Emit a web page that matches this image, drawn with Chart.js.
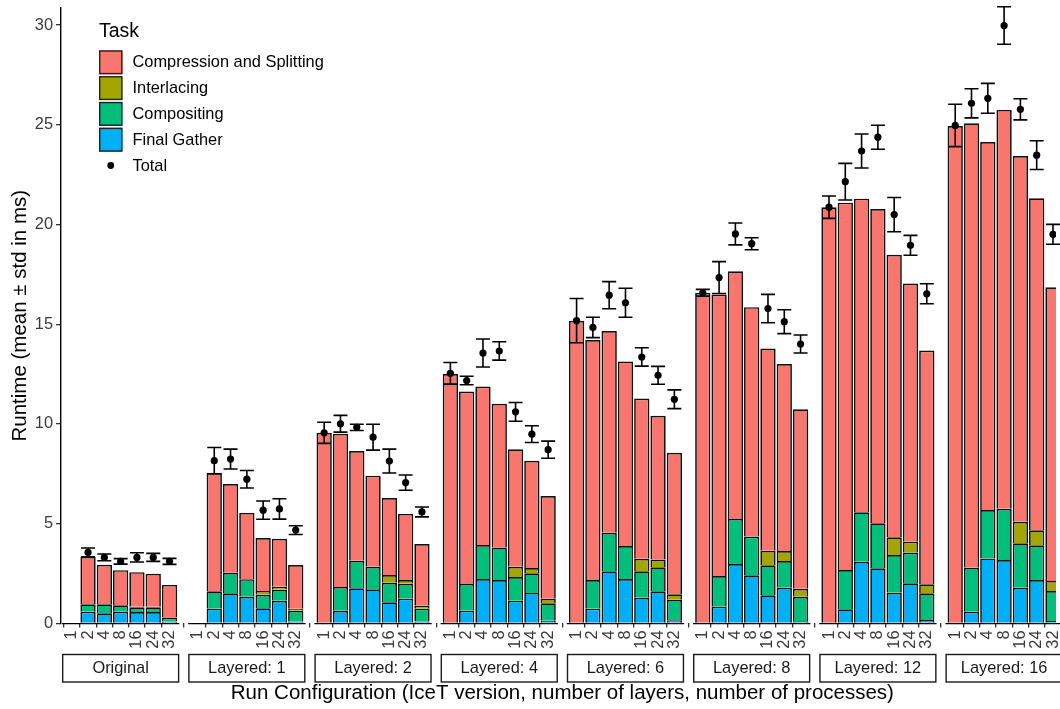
<!DOCTYPE html>
<html>
<head>
<meta charset="utf-8">
<title>IceT runtime breakdown</title>
<script src="https://cdn.jsdelivr.net/npm/chart.js@4.4.1/dist/chart.umd.min.js"></script>
<style>
  html, body { margin: 0; padding: 0; background: #ffffff; }
  canvas { display: block; }
</style>
</head>
<body>
<canvas id="runtimeChart" width="1060" height="709"></canvas>
<script>
// Facets (IceT version / number of layers) and process counts inside each facet
const facets = ['Original', 'Layered: 1', 'Layered: 2', 'Layered: 4', 'Layered: 6', 'Layered: 8', 'Layered: 12', 'Layered: 16'];
const processes = ['1', '2', '4', '8', '16', '24', '32'];

// Mean time per task in ms; one row per facet, one column per process count
const finalGather = [
  [null, 0.59, 0.51, 0.59, 0.57, 0.57, 0.09],
  [null, 0.74, 1.51, 1.34, 0.76, 1.13, 0.09],
  [null, 0.63, 1.76, 1.68, 1.06, 1.24, 0.09],
  [null, 0.64, 2.23, 2.18, 1.14, 1.53, 0.13],
  [null, 0.74, 2.61, 2.23, 1.28, 1.61, 0.16],
  [null, 0.84, 2.98, 2.41, 1.41, 1.79, 0.11],
  [null, 0.71, 3.09, 2.76, 1.54, 2.01, 0.17],
  [null, 0.59, 3.26, 3.18, 1.79, 2.18, 0.12]
];
const compositing = [
  [null, 0.37, 0.45, 0.32, 0.24, 0.24, 0.20],
  [null, 0.87, 1.03, 0.88, 0.68, 0.56, 0.54],
  [null, 1.20, 1.38, 1.16, 0.98, 0.75, 0.65],
  [null, 1.34, 1.70, 1.63, 1.19, 0.98, 0.88],
  [null, 1.44, 1.93, 1.65, 1.33, 1.20, 1.02],
  [null, 1.54, 2.26, 1.95, 1.50, 1.34, 1.23],
  [null, 1.97, 2.48, 2.26, 1.89, 1.54, 1.34],
  [null, 2.20, 2.43, 2.57, 2.23, 1.74, 1.50]
];
const interlacing = [
  [null, 0, 0, 0, 0.03, 0.03, 0.03],
  [null, 0, 0, 0, 0.19, 0.15, 0.11],
  [null, 0, 0, 0, 0.39, 0.19, 0.14],
  [null, 0, 0, 0, 0.51, 0.27, 0.22],
  [null, 0, 0, 0, 0.63, 0.40, 0.28],
  [null, 0, 0, 0, 0.73, 0.50, 0.40],
  [null, 0, 0, 0, 0.89, 0.55, 0.45],
  [null, 0, 0, 0, 1.08, 0.75, 0.51]
];
const compression = [
  [null, 2.38, 1.98, 1.76, 1.73, 1.65, 1.61],
  [null, 5.95, 4.45, 3.32, 2.65, 2.40, 2.19],
  [9.56, 7.68, 5.50, 4.57, 3.86, 3.31, 3.10],
  [12.51, 9.65, 7.95, 7.20, 5.89, 5.38, 5.16],
  [15.18, 12.03, 10.12, 9.25, 8.04, 7.20, 7.10],
  [16.58, 14.11, 12.42, 11.50, 10.15, 9.38, 9.00],
  [20.87, 18.42, 15.73, 15.76, 14.17, 12.94, 11.72],
  [24.94, 22.29, 18.45, 20.00, 18.34, 16.65, 14.73]
];

// Measured total runtime: mean and standard deviation (ms)
const totalMean = [
  [null, 3.56, 3.31, 3.11, 3.31, 3.31, 3.11],
  [null, 8.16, 8.24, 7.23, 5.68, 5.74, 4.68],
  [9.56, 10.01, 9.83, 9.34, 8.14, 7.06, 5.59],
  [12.54, 12.18, 13.56, 13.66, 10.61, 9.49, 8.71],
  [15.18, 14.84, 16.46, 16.08, 13.36, 12.44, 11.24],
  [16.58, 17.34, 19.53, 19.04, 15.79, 15.13, 14.01],
  [20.87, 22.15, 23.69, 24.38, 20.50, 18.96, 16.53],
  [24.97, 26.08, 26.33, 29.98, 25.78, 23.48, 19.51]
];
const totalStd = [
  [null, 0.22, 0.17, 0.14, 0.23, 0.20, 0.15],
  [null, 0.66, 0.50, 0.44, 0.46, 0.51, 0.22],
  [0.53, 0.42, 0.16, 0.65, 0.60, 0.38, 0.25],
  [0.54, 0.21, 0.70, 0.46, 0.47, 0.42, 0.43],
  [1.11, 0.51, 0.68, 0.73, 0.46, 0.45, 0.47],
  [0.17, 0.80, 0.55, 0.30, 0.71, 0.60, 0.45],
  [0.56, 0.92, 0.85, 0.60, 0.86, 0.50, 0.50],
  [1.06, 0.73, 0.75, 0.94, 0.53, 0.72, 0.50]
];

// y axis tick values
const yTicks = [0, 5, 10, 15, 20, 25, 30];

// ---- layout of the faceted x axis (in category units) ----
const FONT = '"Liberation Sans", Arial, Helvetica, sans-serif';
const PANEL_PAD = 0.6;            // empty space either side of a panel
const FACET_STRIDE = 7.745;       // panel width (6 + 2*pad) plus panel spacing
const X_MIN = -0.66;
const X_MAX = 60.4;
const Y_MAX = 30.86;
const AXIS_BOTTOM_HEIGHT = 85.6;

const xPos = (f, c) => f * FACET_STRIDE + c;

function toPoints(rows) {
  const pts = [];
  rows.forEach((row, f) => row.forEach((v, c) => {
    if (v) pts.push({ x: xPos(f, c), y: v });
  }));
  return pts;
}

const totalPoints = [];
totalMean.forEach((row, f) => row.forEach((m, c) => {
  if (m !== null) totalPoints.push({ x: xPos(f, c), y: m, sd: totalStd[f][c] });
}));

const tickPositions = [];
facets.forEach((_, f) => processes.forEach((_, c) => tickPositions.push(xPos(f, c))));

// Error bars are painted just before the Total points, above the stacked bars
const errorBars = {
  id: 'errorBars',
  beforeDatasetDraw(chart, args) {
    const ds = chart.data.datasets[args.index];
    if (ds.label !== 'Total') return;
    const { ctx, scales: { x, y } } = chart;
    const half = x.getPixelForValue(0.43) - x.getPixelForValue(0);
    ctx.save();
    ctx.strokeStyle = '#000000';
    ctx.lineWidth = 1.6;
    ds.data.forEach(p => {
      const px = x.getPixelForValue(p.x);
      const top = y.getPixelForValue(p.y + p.sd);
      const bot = y.getPixelForValue(p.y - p.sd);
      ctx.beginPath();
      ctx.moveTo(px, top); ctx.lineTo(px, bot);
      ctx.moveTo(px - half, top); ctx.lineTo(px + half, top);
      ctx.moveTo(px - half, bot); ctx.lineTo(px + half, bot);
      ctx.stroke();
    });
    ctx.restore();
  }
};

// Per-panel x axis lines, facet strips below the tick labels, x title and legend
const facetDecor = {
  id: 'facetDecor',
  afterDraw(chart) {
    const { ctx, chartArea, scales: { x } } = chart;
    ctx.save();

    // axis line under each panel
    ctx.strokeStyle = '#000000';
    ctx.lineWidth = 1.4;
    facets.forEach((_, f) => {
      const l = x.getPixelForValue(xPos(f, 0) - PANEL_PAD);
      const r = x.getPixelForValue(xPos(f, processes.length - 1) + PANEL_PAD);
      ctx.beginPath();
      ctx.moveTo(l, chartArea.bottom + 0.2);
      ctx.lineTo(r, chartArea.bottom + 0.2);
      ctx.stroke();
    });

    // strips
    const stripTop = 654.5, stripH = 27.5;
    ctx.font = '16.4px ' + FONT;
    ctx.textAlign = 'center';
    ctx.textBaseline = 'middle';
    facets.forEach((name, f) => {
      const l = x.getPixelForValue(xPos(f, 0) - PANEL_PAD);
      const r = x.getPixelForValue(xPos(f, processes.length - 1) + PANEL_PAD);
      ctx.fillStyle = '#ffffff';
      ctx.fillRect(l, stripTop, r - l, stripH);
      ctx.strokeStyle = '#1a1a1a';
      ctx.lineWidth = 1.4;
      ctx.strokeRect(l + 0.7, stripTop, r - l - 1.4, stripH);
      ctx.fillStyle = '#1a1a1a';
      ctx.fillText(name, (l + r) / 2, stripTop + stripH / 2 + 0.5);
    });

    // x axis title, centred on the full span of the panels
    const spanL = x.getPixelForValue(xPos(0, 0) - PANEL_PAD);
    const spanR = x.getPixelForValue(xPos(facets.length - 1, processes.length - 1) + PANEL_PAD);
    ctx.fillStyle = '#000000';
    ctx.font = '20.5px ' + FONT;
    ctx.fillText('Run Configuration (IceT version, number of layers, number of processes)', (spanL + spanR) / 2, 693);

    // legend
    const lx = 99, firstY = 62.3, pitch = 25.8;
    ctx.textAlign = 'left';
    ctx.font = '19.5px ' + FONT;
    ctx.fillText('Task', lx, 32);
    ctx.font = '16.4px ' + FONT;
    const bars = chart.data.datasets.filter(d => d.label !== 'Total').slice().reverse();
    bars.forEach((d, i) => {
      const cy = firstY + i * pitch;
      ctx.fillStyle = d.backgroundColor;
      ctx.fillRect(lx, cy - 12, 23.5, 24);
      ctx.strokeStyle = '#222222';
      ctx.lineWidth = 1.4;
      ctx.strokeRect(lx + 0.7, cy - 11.3, 22.1, 22.6);
      ctx.fillStyle = '#000000';
      ctx.fillText(d.label, 132.5, cy + 0.5);
    });
    const ty = firstY + bars.length * pitch;
    ctx.beginPath();
    ctx.arc(lx + 11.75, ty, 3.4, 0, Math.PI * 2);
    ctx.fillStyle = '#000000';
    ctx.fill();
    ctx.fillText('Total', 132.5, ty + 0.5);

    ctx.restore();
  }
};

const barStyle = { borderColor: '#111111', borderWidth: 1.7, barPercentage: 0.94, categoryPercentage: 1 };

new Chart(document.getElementById('runtimeChart'), {
  type: 'bar',
  data: {
    datasets: [
      { label: 'Final Gather', data: toPoints(finalGather), backgroundColor: '#00B0F6', ...barStyle },
      { label: 'Compositing', data: toPoints(compositing), backgroundColor: '#00BF7D', ...barStyle },
      { label: 'Interlacing', data: toPoints(interlacing), backgroundColor: '#A3A500', ...barStyle },
      { label: 'Compression and Splitting', data: toPoints(compression), backgroundColor: '#F8766D', ...barStyle },
      {
        type: 'line', label: 'Total', data: totalPoints, stack: 'total', order: -1,
        showLine: false, pointRadius: 3.6, pointBackgroundColor: '#000000', pointBorderWidth: 0,
        borderColor: '#000000'
      }
    ]
  },
  options: {
    responsive: false,
    animation: false,
    devicePixelRatio: 1,
    events: [],
    layout: { padding: { top: 8, right: 0, bottom: 0, left: 0 } },
    plugins: { legend: { display: false }, tooltip: { enabled: false } },
    scales: {
      x: {
        type: 'linear',
        stacked: true,
        min: X_MIN,
        max: X_MAX,
        offset: false,
        afterBuildTicks: ax => { ax.ticks = tickPositions.map(v => ({ value: v })); },
        afterFit: ax => { ax.height = AXIS_BOTTOM_HEIGHT; ax.paddingLeft = 0; ax.paddingRight = 0; },
        ticks: {
          autoSkip: false, minRotation: 90, maxRotation: 90, padding: 3,
          color: '#3a3a3a', font: { family: FONT, size: 16.4 },
          callback: (v, i) => processes[i % processes.length]
        },
        grid: { drawOnChartArea: false, drawTicks: true, tickLength: 4, color: '#333333', lineWidth: 1.3 },
        border: { display: false }
      },
      y: {
        stacked: true,
        min: 0,
        max: Y_MAX,
        afterBuildTicks: ax => { ax.ticks = yTicks.map(v => ({ value: v })); },
        afterFit: ax => { ax.width = 61; ax.paddingTop = 0; ax.paddingBottom = 0; },
        ticks: { padding: 3, color: '#3a3a3a', font: { family: FONT, size: 16.4 } },
        grid: { drawOnChartArea: false, drawTicks: true, tickLength: 5, color: '#333333', lineWidth: 1.3 },
        border: { display: true, color: '#000000', width: 1.4 },
        title: {
          display: true, text: 'Runtime (mean ± std in ms)', color: '#000000',
          font: { family: FONT, size: 20.5 }, padding: { top: 8, bottom: 0 }
        }
      }
    }
  },
  plugins: [errorBars, facetDecor]
});
</script>
</body>
</html>
